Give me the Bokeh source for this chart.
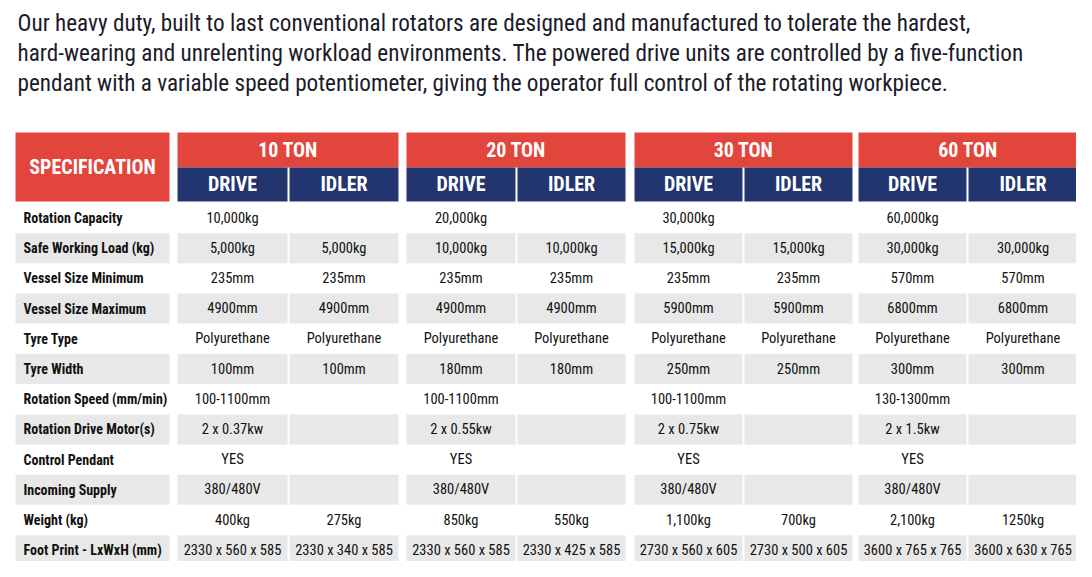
from bokeh.plotting import figure
from bokeh.models import Range1d
from bokeh.core.properties import value
from bokeh.embed import file_html
from bokeh.resources import INLINE

# ---------------- data ----------------
intro_lines = [
    "Our heavy duty, built to last conventional rotators are designed and manufactured to tolerate the hardest,",
    "hard-wearing and unrelenting workload environments. The powered drive units are controlled by a five-function",
    "pendant with a variable speed potentiometer, giving the operator full control of the rotating workpiece.",
]
spec_title = "SPECIFICATION"
tons = ["10 TON", "20 TON", "30 TON", "60 TON"]
sub_headers = ["DRIVE", "IDLER"]
spec_labels = [
    "Rotation Capacity", "Safe Working Load (kg)", "Vessel Size Minimum", "Vessel Size Maximum",
    "Tyre Type", "Tyre Width", "Rotation Speed (mm/min)", "Rotation Drive Motor(s)",
    "Control Pendant", "Incoming Supply", "Weight (kg)", "Foot Print - LxWxH (mm)",
]
drive_10 = ["10,000kg", "5,000kg", "235mm", "4900mm", "Polyurethane", "100mm", "100-1100mm", "2 x 0.37kw", "YES", "380/480V", "400kg", "2330 x 560 x 585"]
idler_10 = ["", "5,000kg", "235mm", "4900mm", "Polyurethane", "100mm", "", "", "", "", "275kg", "2330 x 340 x 585"]
drive_20 = ["20,000kg", "10,000kg", "235mm", "4900mm", "Polyurethane", "180mm", "100-1100mm", "2 x 0.55kw", "YES", "380/480V", "850kg", "2330 x 560 x 585"]
idler_20 = ["", "10,000kg", "235mm", "4900mm", "Polyurethane", "180mm", "", "", "", "", "550kg", "2330 x 425 x 585"]
drive_30 = ["30,000kg", "15,000kg", "235mm", "5900mm", "Polyurethane", "250mm", "100-1100mm", "2 x 0.75kw", "YES", "380/480V", "1,100kg", "2730 x 560 x 605"]
idler_30 = ["", "15,000kg", "235mm", "5900mm", "Polyurethane", "250mm", "", "", "", "", "700kg", "2730 x 500 x 605"]
drive_60 = ["60,000kg", "30,000kg", "570mm", "6800mm", "Polyurethane", "300mm", "130-1300mm", "2 x 1.5kw", "YES", "380/480V", "2,100kg", "3600 x 765 x 765"]
idler_60 = ["", "30,000kg", "570mm", "6800mm", "Polyurethane", "300mm", "", "", "", "", "1250kg", "3600 x 630 x 765"]
value_columns = [drive_10, idler_10, drive_20, idler_20, drive_30, idler_30, drive_60, idler_60]

# ---------------- layout ----------------
W, H = 1076, 561
RED = "#e2453c"
NAVY = "#22356f"
GRAY = "#e8e8e8"
FONT = "Roboto Condensed, DejaVu Sans Condensed, Roboto"

spec_x = (15, 169)
col_edges = [(177, 287), (289, 398), (406, 515), (517, 625),
             (634, 742), (744, 852), (858, 966), (968, 1077)]
hdr_top, hdr_mid, hdr_bot = 132, 167, 201
row0, pitch, row_h = 217.5, 30.2, 30

p = figure(width=W, height=H, output_backend="svg", toolbar_location=None,
           x_range=Range1d(0, W), y_range=Range1d(H, 0),
           min_border=0, background_fill_color="white", border_fill_color="white")
p.outline_line_color = None
p.axis.visible = False
p.grid.visible = False

# intro paragraph
p.text(x=[17] * len(intro_lines), y=[22 + 30 * i for i in range(len(intro_lines))], text=intro_lines,
       text_font=value(FONT), text_font_size="23.2px", text_color="#1b1b2a",
       text_baseline="middle", text_align="left")

# header blocks
p.quad(left=[spec_x[0]], right=[spec_x[1]], top=[hdr_top], bottom=[hdr_bot], fill_color=RED, line_color=None)
ton_l = [col_edges[2 * i][0] for i in range(len(tons))]
ton_r = [col_edges[2 * i + 1][1] for i in range(len(tons))]
p.quad(left=ton_l, right=ton_r, top=[hdr_top] * len(tons), bottom=[hdr_mid] * len(tons), fill_color=RED, line_color=None)
p.quad(left=[c[0] for c in col_edges], right=[c[1] for c in col_edges],
       top=[hdr_mid] * len(col_edges), bottom=[hdr_bot] * len(col_edges), fill_color=NAVY, line_color=None)

p.text(x=[(spec_x[0] + spec_x[1]) / 2], y=[(hdr_top + hdr_bot) / 2], text=[spec_title],
       text_font=value(FONT), text_font_style="bold", text_font_size="20px", text_color="white",
       text_baseline="middle", text_align="center")
p.text(x=[(l + r) / 2 for l, r in zip(ton_l, ton_r)], y=[(hdr_top + hdr_mid) / 2 - 0.5] * len(tons), text=tons,
       text_font=value(FONT), text_font_style="bold", text_font_size="20px", text_color="white",
       text_baseline="middle", text_align="center")
p.text(x=[(c[0] + c[1]) / 2 for c in col_edges], y=[(hdr_mid + hdr_bot) / 2 - 0.5] * len(col_edges),
       text=[sub_headers[i % 2] for i in range(len(col_edges))],
       text_font=value(FONT), text_font_style="bold", text_font_size="20px", text_color="white",
       text_baseline="middle", text_align="center")

# grey striped rows
gl, gr, gt, gb = [], [], [], []
for i in range(len(spec_labels)):
    if i % 2 == 1:
        cy = row0 + i * pitch
        for (l, r) in [spec_x] + col_edges:
            gl.append(l); gr.append(r); gt.append(cy - row_h / 2); gb.append(cy + row_h / 2)
p.quad(left=gl, right=gr, top=gt, bottom=gb, fill_color=GRAY, line_color=None)

# labels
row_y = [row0 + i * pitch for i in range(len(spec_labels))]
p.text(x=[23] * len(spec_labels), y=row_y, text=spec_labels,
       text_font=value(FONT), text_font_style="bold", text_font_size="14px", text_color="#111111",
       text_baseline="middle", text_align="left")

# values
vx, vy, vt = [], [], []
for c, col in enumerate(value_columns):
    cx = (col_edges[c][0] + col_edges[c][1]) / 2
    for i, v in enumerate(col):
        if v:
            vx.append(cx); vy.append(row_y[i]); vt.append(v)
p.text(x=vx, y=vy, text=vt, text_font=value(FONT), text_font_size="14.5px", text_color="#111111",
       text_baseline="middle", text_align="center")

open("out.html", "w").write(file_html(p, INLINE))
